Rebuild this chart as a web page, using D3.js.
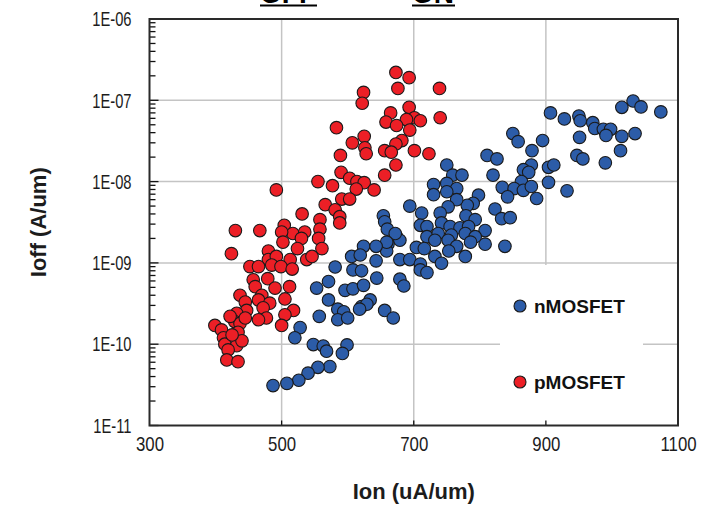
<!DOCTYPE html>
<html>
<head>
<meta charset="utf-8">
<script src="https://cdn.jsdelivr.net/npm/d3@7"></script>
<style>
body { margin: 0; background: #fff; }
text { font-family: Arial, "Liberation Sans", sans-serif; }
</style>
</head>
<body>
<div id="chart"></div>
<script>
// axis ticks
const xTicks = [300, 500, 700, 900, 1100];
const yTicks = [1e-6, 1e-7, 1e-8, 1e-9, 1e-10, 1e-11];
const seriesNames = ["nMOSFET", "pMOSFET"];
const seriesColors = ["#2c5ca8", "#ec1f26"];

// nMOSFET: Ion (uA/um), Ioff (A/um)
const nIon = [907, 928, 950, 952, 971, 974, 987, 998, 991, 1015, 1035, 1015, 1032, 1044, 1074, 951, 947, 956, 990, 1013,
  850, 858, 895, 879, 878, 866, 874, 904, 912, 904, 932, 811, 826, 750, 759, 773, 820, 863, 834, 852,
  866, 878, 886, 842, 730, 750, 765, 730, 750, 798, 790, 781, 765, 752, 694, 712, 740, 779, 793, 823,
  833, 846, 838, 808, 808, 710, 720, 742, 755, 770, 783, 674, 679, 720, 737, 757, 778, 793, 661, 704,
  716, 732, 752, 765, 786, 659, 679, 694, 710, 732, 742, 753, 778, 710, 720, 679, 685, 654, 656, 660,
  672, 659, 624, 643, 606, 619, 643, 581, 608, 621, 644, 571, 553, 596, 608, 624, 571, 585, 594, 585,
  600, 621, 634, 629, 618, 656, 669, 557, 528, 520, 548, 563, 568, 599, 592, 573, 555, 540, 526, 508, 487];
const nIoff = [7.0e-8, 5.9e-8, 6.4e-8, 5.6e-8, 5.3e-8, 4.5e-8, 4.4e-8, 4.4e-8, 3.7e-8, 3.6e-8, 3.9e-8, 8.2e-8, 9.8e-8, 8.3e-8, 7.2e-8, 3.5e-8, 2.1e-8, 1.9e-8, 1.7e-8, 2.4e-8,
  3.9e-8, 3.1e-8, 3.2e-8, 2.4e-8, 1.6e-8, 1.4e-8, 1.3e-8, 1.5e-8, 1.6e-8, 9.8e-9, 7.7e-9, 2.1e-8, 1.9e-8, 1.6e-8, 1.2e-8, 1.2e-8, 1.2e-8, 1.0e-8, 8.5e-9, 8.2e-9,
  7.8e-9, 8.7e-9, 6.2e-9, 6.5e-9, 9.2e-9, 9.5e-9, 8.2e-9, 6.9e-9, 7.5e-9, 6.8e-9, 5.4e-9, 5.1e-9, 6.0e-9, 4.9e-9, 5.0e-9, 4.1e-9, 4.1e-9, 3.8e-9, 3.4e-9, 4.6e-9,
  3.5e-9, 3.6e-9, 1.6e-9, 2.5e-9, 1.7e-9, 2.9e-9, 2.8e-9, 3.1e-9, 2.8e-9, 2.7e-9, 2.8e-9, 2.1e-9, 1.9e-9, 2.1e-9, 2.3e-9, 2.2e-9, 2.3e-9, 2.1e-9, 1.7e-9, 1.55e-9,
  1.5e-9, 1.9e-9, 1.9e-9, 1.6e-9, 1.8e-9, 1.4e-9, 1.1e-9, 1.1e-9, 9.7e-10, 1.2e-9, 9.9e-10, 1.4e-9, 1.2e-9, 8.2e-10, 7.6e-10, 6.3e-10, 5.2e-10, 3.8e-9, 3.2e-9, 2.6e-9,
  2.3e-9, 1.8e-9, 1.6e-9, 1.6e-9, 1.2e-9, 1.25e-9, 1.06e-9, 8.9e-10, 8.2e-10, 8.0e-10, 6.5e-10, 5.9e-10, 4.9e-10, 4.6e-10, 4.8e-10, 5.3e-10, 3.5e-10, 2.7e-10, 2.5e-10, 2.0e-10,
  2.1e-10, 2.9e-10, 3.5e-10, 3.1e-10, 2.7e-10, 2.6e-10, 2.1e-10, 2.2e-10, 1.6e-10, 1.2e-10, 9.9e-11, 9.5e-11, 8.2e-11, 9.8e-11, 7.7e-11, 5.3e-11, 5.2e-11, 4.4e-11, 3.6e-11, 3.3e-11, 3.1e-11];

// pMOSFET: Ion (uA/um), Ioff (A/um)
const pIon = [673, 693, 676, 739, 624, 622, 693, 665, 701, 710, 689, 658, 674, 740, 583, 694, 625, 682, 673, 607,
  626, 628, 656, 666, 701, 723, 589, 673, 590, 656, 603, 614, 625, 613, 640, 577, 555, 492, 591, 603,
  566, 581, 531, 558, 588, 588, 558, 504, 517, 535, 500, 467, 430, 556, 530, 502, 561, 524, 424, 480,
  480, 492, 513, 538, 546, 485, 499, 516, 452, 465, 457, 479, 460, 490, 512, 470, 505, 437, 445, 465,
  482, 447, 472, 432, 429, 518, 505, 477, 465, 500, 437, 399, 409, 434, 412, 414, 432, 419, 417, 434,
  422, 440, 425, 445];
const pIoff = [2.2e-7, 1.9e-7, 1.4e-7, 1.4e-7, 1.25e-7, 9.2e-8, 8.2e-8, 7.0e-8, 6.1e-8, 5.6e-8, 5.8e-8, 5.4e-8, 4.9e-8, 6.1e-8, 4.6e-8, 4.3e-8, 3.6e-8, 3.2e-8, 2.9e-8, 3.0e-8,
  2.6e-8, 2.2e-8, 2.4e-8, 2.3e-8, 2.4e-8, 2.2e-8, 2.1e-8, 1.6e-8, 1.3e-8, 1.2e-8, 1.1e-8, 1.0e-8, 9.7e-9, 8.1e-9, 7.9e-9, 8.9e-9, 1.0e-8, 7.9e-9, 6.1e-9, 6.1e-9,
  5.2e-9, 4.5e-9, 4.0e-9, 3.4e-9, 3.7e-9, 3.1e-9, 2.6e-9, 2.9e-9, 2.3e-9, 2.4e-9, 2.4e-9, 2.5e-9, 2.5e-9, 2.0e-9, 2.0e-9, 1.8e-9, 1.5e-9, 1.5e-9, 1.3e-9, 1.4e-9,
  1.1e-9, 1.2e-9, 1.1e-9, 1.1e-9, 1.2e-9, 9.4e-10, 9.0e-10, 8.4e-10, 9.0e-10, 9.0e-10, 6.2e-10, 6.4e-10, 5.1e-10, 4.9e-10, 5.1e-10, 4.0e-10, 3.6e-10, 4.0e-10, 3.3e-10, 3.5e-10,
  3.2e-10, 2.6e-10, 2.8e-10, 2.4e-10, 1.9e-10, 2.6e-10, 2.3e-10, 2.1e-10, 2.0e-10, 1.7e-10, 1.8e-10, 1.7e-10, 1.5e-10, 1.4e-10, 1.2e-10, 1.0e-10, 9.6e-11, 8.5e-11, 6.4e-11, 6.1e-11,
  2.2e-10, 1.1e-10, 1.3e-10, 2.1e-10];

const W = 722, H = 523;
const m = {l: 149.5, r: 678, t: 19, b: 425.5};

const svg = d3.select("#chart").append("svg")
    .attr("width", W)
    .attr("height", H);

const x = d3.scaleLinear().domain([300, 1100]).range([m.l, m.r]);
const y = d3.scaleLog().domain([1e-11, 1e-6]).range([m.b, m.t]);

// squeeze a text sideways, the source figure has narrow lettering
function narrow(sel, k) {
    sel.each(function() {
        let w = this.getComputedTextLength();
        d3.select(this).attr("textLength", w * k).attr("lengthAdjust", "spacingAndGlyphs");
    });
}

// cut-off heading at the very top
[["OFF", 260, 317], ["ON", 412, 455]].forEach(h => {
    svg.append("text").attr("x", h[1]).attr("y", 3)
        .style("font-size", "28px").style("font-weight", "bold")
        .text(h[0]);
    svg.append("line").attr("x1", h[1]).attr("x2", h[2])
        .attr("y1", 5.5).attr("y2", 5.5)
        .style("stroke", "#000").style("stroke-width", 2);
});

// grid
svg.append("g").selectAll("line")
    .data(xTicks.slice(1, -1))
    .enter().append("line")
    .attr("x1", d => x(d)).attr("x2", d => x(d))
    .attr("y1", m.t).attr("y2", m.b)
    .style("stroke", "#c4c4c4").style("stroke-width", 1.5);
svg.append("g").selectAll("line")
    .data(yTicks.slice(1, -1))
    .enter().append("line")
    .attr("x1", m.l).attr("x2", m.r)
    .attr("y1", d => y(d)).attr("y2", d => y(d))
    .style("stroke", "#c4c4c4").style("stroke-width", 1.5);

// points
let nData = d3.zip(nIon, nIoff);
let pData = d3.zip(pIon, pIoff);
[[nData, 0], [pData, 1]].forEach(s => {
    svg.append("g").selectAll("circle")
        .data(s[0])
        .enter().append("circle")
        .attr("cx", d => x(d[0]))
        .attr("cy", d => y(d[1]))
        .attr("r", 6.3)
        .style("fill", seriesColors[s[1]])
        .style("stroke", "#1a1a1a")
        .style("stroke-width", 1.1);
});

// legend sits on a white patch that hides the grid
svg.append("rect")
    .attr("x", 500).attr("y", 265)
    .attr("width", 143).attr("height", 159)
    .style("fill", "#fff");
let legendY = [306, 382];
seriesNames.forEach((name, i) => {
    svg.append("circle")
        .attr("cx", 520).attr("cy", legendY[i]).attr("r", 6)
        .style("fill", seriesColors[i])
        .style("stroke", "#1a1a1a").style("stroke-width", 1.1);
    svg.append("text")
        .attr("x", 534).attr("y", legendY[i]).attr("dy", "0.35em")
        .style("font-size", "19px").style("font-weight", "bold")
        .style("fill", "#111")
        .text(name);
});

// minor ticks on the log axis
let minor = [];
for (let k = -11; k < -6; k++) {
    for (let j = 2; j < 10; j++) minor.push(j * Math.pow(10, k));
}
svg.append("g").selectAll("line")
    .data(minor)
    .enter().append("line")
    .attr("x1", m.l).attr("x2", m.l + 6)
    .attr("y1", d => y(d)).attr("y2", d => y(d))
    .style("stroke", "#111").style("stroke-width", 1.3);
svg.append("g").selectAll("line")
    .data(yTicks)
    .enter().append("line")
    .attr("x1", m.l).attr("x2", m.l + 9)
    .attr("y1", d => y(d)).attr("y2", d => y(d))
    .style("stroke", "#111").style("stroke-width", 1.3);
svg.append("g").selectAll("line")
    .data(xTicks.slice(1, -1))
    .enter().append("line")
    .attr("x1", d => x(d)).attr("x2", d => x(d))
    .attr("y1", m.b).attr("y2", m.b - 5)
    .style("stroke", "#111").style("stroke-width", 1.3);

// frame
svg.append("rect")
    .attr("x", m.l).attr("y", m.t)
    .attr("width", m.r - m.l).attr("height", m.b - m.t)
    .style("fill", "none")
    .style("stroke", "#2a2a2a").style("stroke-width", 2);

// tick labels
let yAxis = d3.axisLeft(y).tickValues(yTicks)
    .tickFormat(d => "1E-" + String(-Math.round(Math.log10(d))).padStart(2, "0"))
    .tickSize(0).tickPadding(18);
let gy = svg.append("g").attr("transform", `translate(${m.l},0)`).call(yAxis);
gy.select(".domain").remove();
gy.selectAll("text").style("font-size", "21px").style("fill", "#1c1c1c")
    .style("font-family", "Arial, 'Liberation Sans', sans-serif")
    .call(narrow, 0.7);

let xAxis = d3.axisBottom(x).tickValues(xTicks).tickFormat(d3.format("d"))
    .tickSize(0).tickPadding(11);
let gx = svg.append("g").attr("transform", `translate(0,${m.b})`).call(xAxis);
gx.select(".domain").remove();
gx.selectAll("text").style("font-size", "21px").style("fill", "#1c1c1c")
    .style("font-family", "Arial, 'Liberation Sans', sans-serif")
    .call(narrow, 0.8);

// axis titles
svg.append("text")
    .attr("x", (m.l + m.r) / 2).attr("y", 499)
    .attr("text-anchor", "middle")
    .style("font-size", "22px").style("font-weight", "bold").style("fill", "#1c1c1c")
    .text("Ion (uA/um)");
svg.append("text")
    .attr("transform", `translate(46,${(m.t + m.b) / 2}) rotate(-90)`)
    .attr("text-anchor", "middle")
    .style("font-size", "22px").style("font-weight", "bold").style("fill", "#1c1c1c")
    .text("Ioff (A/um)");
</script>
</body>
</html>
